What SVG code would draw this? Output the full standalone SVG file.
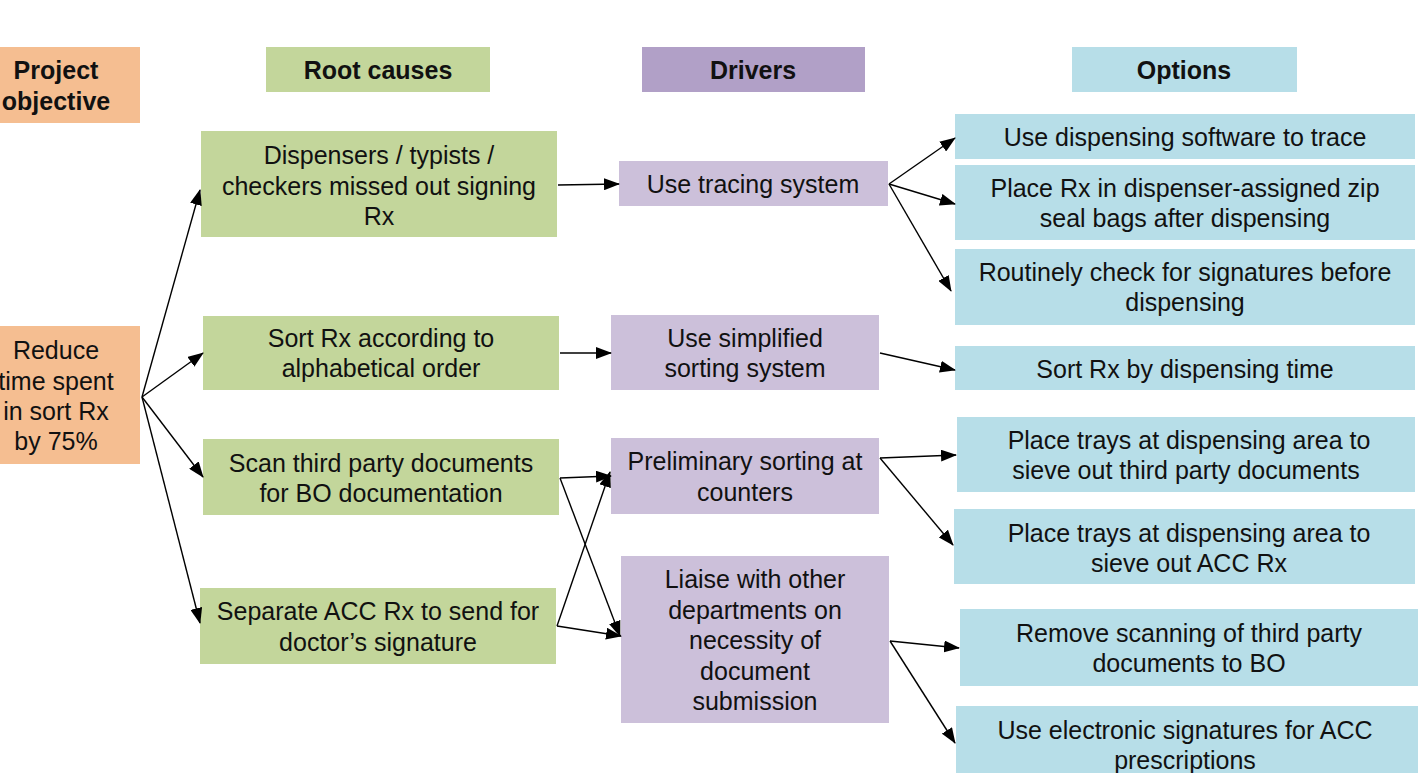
<svg xmlns="http://www.w3.org/2000/svg" width="1421" height="773" viewBox="0 0 1421 773">
<defs>
<marker id="ah" markerWidth="16" markerHeight="12" refX="15" refY="6" orient="auto" markerUnits="userSpaceOnUse">
<path d="M0,0 L16,6 L0,12 Z" fill="#000"/>
</marker>
<style>
text{font-family:"Liberation Sans",Arial,sans-serif;font-size:25px;fill:#111;text-anchor:middle}
.h{font-weight:bold}
.obj{fill:#F5BE91}
.root{fill:#C3D69B}
.drv{fill:#CCC0DA}
.opt{fill:#B7DEE8}
.hdrv{fill:#B1A0C7}
.c line{stroke:#000;stroke-width:1.4;marker-end:url(#ah)}
</style>
</defs>
<rect width="1421" height="773" fill="#fff"/>
<g id="hdr-objective"><rect class="obj" x="-30" y="47" width="170" height="76"/><text class="h" x="56" y="79">Project</text><text class="h" x="56" y="110">objective</text></g>
<g id="hdr-root"><rect class="root" x="266" y="47" width="224" height="45"/><text class="h" x="378" y="79">Root causes</text></g>
<g id="hdr-drivers"><rect class="hdrv" x="642" y="47" width="223" height="45"/><text class="h" x="753" y="79">Drivers</text></g>
<g id="hdr-options"><rect class="opt" x="1072" y="47" width="225" height="45"/><text class="h" x="1184" y="79">Options</text></g>

<g id="objective"><rect class="obj" x="-30" y="326" width="170" height="138"/><text x="56" y="359">Reduce</text><text x="56" y="390">time spent</text><text x="56" y="420">in sort Rx</text><text x="56" y="450">by 75%</text></g>

<g id="root1"><rect class="root" x="201" y="131" width="356" height="106"/><text x="379" y="164">Dispensers / typists /</text><text x="379" y="195">checkers missed out signing</text><text x="379" y="225">Rx</text></g>
<g id="root2"><rect class="root" x="203" y="316" width="356" height="74"/><text x="381" y="347">Sort Rx according to</text><text x="381" y="377">alphabetical order</text></g>
<g id="root3"><rect class="root" x="203" y="439" width="356" height="76"/><text x="381" y="472">Scan third party documents</text><text x="381" y="502">for BO documentation</text></g>
<g id="root4"><rect class="root" x="200" y="588" width="356" height="76"/><text x="378" y="620">Separate ACC Rx to send for</text><text x="378" y="651">doctor’s signature</text></g>

<g id="drv1"><rect class="drv" x="619" y="161" width="269" height="45"/><text x="753" y="193">Use tracing system</text></g>
<g id="drv2"><rect class="drv" x="611" y="315" width="268" height="75"/><text x="745" y="347">Use simplified</text><text x="745" y="377">sorting system</text></g>
<g id="drv3"><rect class="drv" x="611" y="438" width="268" height="76"/><text x="745" y="470">Preliminary sorting at</text><text x="745" y="501">counters</text></g>
<g id="drv4"><rect class="drv" x="621" y="556" width="268" height="167"/><text x="755" y="588">Liaise with other</text><text x="755" y="619">departments on</text><text x="755" y="649">necessity of</text><text x="755" y="680">document</text><text x="755" y="710">submission</text></g>

<g id="opt1"><rect class="opt" x="955" y="114" width="460" height="45"/><text x="1185" y="146">Use dispensing software to trace</text></g>
<g id="opt2"><rect class="opt" x="955" y="165" width="460" height="75"/><text x="1185" y="197">Place Rx in dispenser-assigned zip</text><text x="1185" y="227">seal bags after dispensing</text></g>
<g id="opt3"><rect class="opt" x="955" y="249" width="460" height="76"/><text x="1185" y="281">Routinely check for signatures before</text><text x="1185" y="311">dispensing</text></g>
<g id="opt4"><rect class="opt" x="955" y="346" width="460" height="44"/><text x="1185" y="378">Sort Rx by dispensing time</text></g>
<g id="opt5"><rect class="opt" x="957" y="417" width="458" height="75"/><text x="1189" y="449">Place trays at dispensing area to</text><text x="1186" y="479">sieve out third party documents</text></g>
<g id="opt6"><rect class="opt" x="954" y="509" width="461" height="75"/><text x="1189" y="542">Place trays at dispensing area to</text><text x="1189" y="572">sieve out ACC Rx</text></g>
<g id="opt7"><rect class="opt" x="960" y="609" width="458" height="77"/><text x="1189" y="642">Remove scanning of third party</text><text x="1189" y="672">documents to BO</text></g>
<g id="opt8"><rect class="opt" x="956" y="706" width="462" height="70"/><text x="1185" y="739">Use electronic signatures for ACC</text><text x="1185" y="769">prescriptions</text></g>

<g id="connectors" class="c">
<line x1="142" y1="397" x2="200" y2="190"/>
<line x1="142" y1="397" x2="203" y2="353"/>
<line x1="142" y1="397" x2="203" y2="477"/>
<line x1="142" y1="397" x2="200" y2="623"/>
<line x1="558" y1="185" x2="619" y2="184"/>
<line x1="560" y1="353" x2="611" y2="353"/>
<line x1="560" y1="478" x2="611" y2="476"/>
<line x1="560" y1="478" x2="620" y2="636"/>
<line x1="557" y1="626" x2="610" y2="472"/>
<line x1="557" y1="626" x2="621" y2="636"/>
<line x1="889" y1="184" x2="955" y2="138"/>
<line x1="889" y1="184" x2="955" y2="204"/>
<line x1="889" y1="184" x2="951" y2="291"/>
<line x1="880" y1="353" x2="955" y2="370"/>
<line x1="880" y1="458" x2="956" y2="455"/>
<line x1="880" y1="458" x2="953" y2="545"/>
<line x1="890" y1="641" x2="959" y2="648"/>
<line x1="890" y1="641" x2="955" y2="743"/>
</g>
</svg>
